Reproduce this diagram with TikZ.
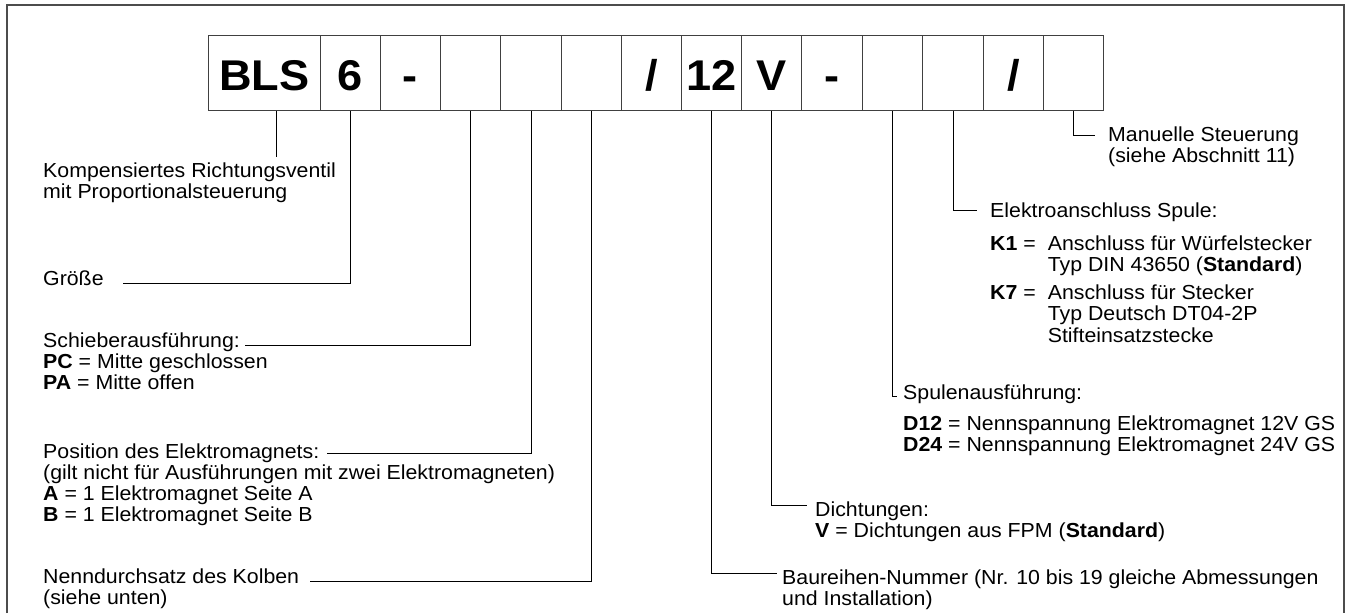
\documentclass[tikz,border=0pt]{standalone}
\usepackage{fontspec}
\setmainfont{Liberation Sans}[FakeStretch=1.05]
\newcommand\mlines[1]{\begin{tabular}[t]{@{}l@{}}#1\end{tabular}}
\begin{document}
\begin{tikzpicture}[x=1pt,y=-1pt,
  cell/.style={draw=black!75, line width=1pt, minimum height=75pt, inner sep=0pt,
    text height=35pt, text depth=0pt,
    anchor=north west, font=\fontsize{43}{43}\selectfont\bfseries},
  lbl/.style={anchor=base west, inner sep=0pt,
    font=\fontsize{20.3}{21.3}\selectfont},
  conn/.style={draw=black, line width=0.9pt}]
\useasboundingbox (0,0) rectangle (1346,613);
\draw[black!70, line width=1.4pt] (7,613) -- (7,5) -- (1344,5) -- (1344,613);
% code cells
\node[cell, minimum width=112pt] (c1) at (208,35) {BLS};
\node[cell, minimum width=60pt] (c2) at (320,35) {6};
\node[cell, minimum width=60pt] (c3) at (380,35) {-};
\node[cell, minimum width=60pt] (c4) at (440,35) {};
\node[cell, minimum width=61pt] (c5) at (500,35) {};
\node[cell, minimum width=60pt] (c6) at (561,35) {};
\node[cell, minimum width=60pt] (c7) at (621,35) {/};
\node[cell, minimum width=60pt] (c8) at (681,35) {12};
\node[cell, minimum width=60pt] (c9) at (741,35) {V};
\node[cell, minimum width=61pt] (c10) at (801,35) {-};
\node[cell, minimum width=60pt] (c11) at (862,35) {};
\node[cell, minimum width=61pt] (c12) at (922,35) {};
\node[cell, minimum width=60pt] (c13) at (983,35) {/};
\node[cell, minimum width=60pt] (c14) at (1043,35) {};
% left labels
\node[lbl] (komp) at (43,177) {\mlines{Kompensiertes Richtungsventil\\mit Proportionalsteuerung}};
\node[lbl] (gr) at (43,285) {Größe};
\node[lbl] (sch) at (43,347) {\mlines{Schieberausführung:\\\textbf{PC} = Mitte geschlossen\\\textbf{PA} = Mitte offen}};
\node[lbl] (pos) at (43,458) {\mlines{Position des Elektromagnets:\\(gilt nicht für Ausführungen mit zwei Elektromagneten)\\\textbf{A} = 1 Elektromagnet Seite A\\\textbf{B} = 1 Elektromagnet Seite B}};
\node[lbl] (nen) at (43,583) {\mlines{Nenndurchsatz des Kolben\\(siehe unten)}};
% right labels
\node[lbl] (man) at (1108,141) {\mlines{Manuelle Steuerung\\(siehe Abschnitt 11)}};
\node[lbl] (ele) at (990,217) {Elektroanschluss Spule:};
\node[lbl] (kk) at (990,250) {\begin{tabular}[t]{@{}l@{\hspace{12pt}}l@{}}
\textbf{K1} = & Anschluss für Würfelstecker\\
 & Typ DIN 43650 (\textbf{Standard})\\[7pt]
\textbf{K7} = & Anschluss für Stecker\\
 & Typ Deutsch DT04-2P\\
 & Stifteinsatzstecke
\end{tabular}};
\node[lbl] (spu) at (903,399) {Spulenausführung:};
\node[lbl] (dd) at (903,430) {\mlines{\textbf{D12} = Nennspannung Elektromagnet 12V GS\\\textbf{D24} = Nennspannung Elektromagnet 24V GS}};
\node[lbl] (dic) at (815,516) {\mlines{Dichtungen:\\\textbf{V} = Dichtungen aus FPM (\textbf{Standard})}};
\node[lbl] (bau) at (782,584) {\mlines{Baureihen-Nummer (Nr. 10 bis 19 gleiche Abmessungen\\und Installation)}};
% connector ends
\coordinate (blsE) at (276,157);
\coordinate (grE) at (123,283);
\coordinate (schE) at (245,345);
\coordinate (posE) at (327,453);
\coordinate (nenE) at (310,581);
\coordinate (bauE) at (777,573);
\coordinate (dicE) at (807,505);
\coordinate (spuE) at (897,396);
\coordinate (eleE) at (977,210);
\coordinate (manE) at (1095,135);
% connectors
\draw[conn] (c1.south -| blsE) -- (blsE);
\draw[conn] (c2.south) |- (grE);
\draw[conn] (c4.south) |- (schE);
\draw[conn] (c5.south) |- (posE);
\draw[conn] (c6.south) |- (nenE);
\draw[conn] (c8.south) |- (bauE);
\draw[conn] (c9.south) |- (dicE);
\draw[conn] (c11.south) |- (spuE);
\draw[conn] (c12.south) |- (eleE);
\draw[conn] (c14.south) |- (manE);
\end{tikzpicture}
\end{document}
